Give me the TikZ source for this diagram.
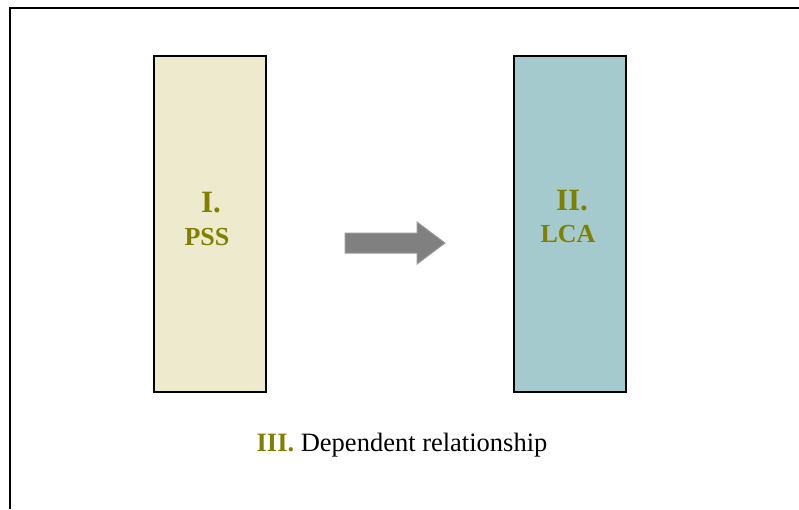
\documentclass[tikz,border=0pt]{standalone}
\usepackage{fontspec}
\setmainfont{Liberation Serif}
\definecolor{olivetxt}{HTML}{808000}
\definecolor{creamfill}{HTML}{EEEACD}
\definecolor{tealfill}{HTML}{A5CACD}
\definecolor{arrowgray}{HTML}{808080}
\definecolor{arrowedge}{HTML}{9A9A9A}
\begin{document}
\begin{tikzpicture}[x=1pt,y=-1pt,
  panel/.style={draw=black,line width=2pt,minimum width=112pt,minimum height=336pt,inner sep=0pt},
  bigroman/.style={text=olivetxt,font=\fontsize{31}{31}\selectfont\bfseries,inner sep=0pt},
  abbrev/.style={text=olivetxt,font=\fontsize{26}{26}\selectfont\bfseries,inner sep=0pt}]
\useasboundingbox (0,0) rectangle (799,509);
% outer frame (only left and top edges visible)
\draw[line width=2pt] (10,509) -- (10,8) -- (799,8);
% panels
\node[panel,fill=creamfill] (pss) at (210,224) {};
\node[panel,fill=tealfill] (lca) at (570,224) {};
\node[bigroman,anchor=base] (pssnum) at (211,212) {I.};
\node[abbrev,anchor=base] (psslbl) at (207,245) {PSS};
\node[bigroman,anchor=base] (lcanum) at (572,210) {II.};
\node[abbrev,anchor=base] (lcalbl) at (568,242) {LCA};
% block arrow
\draw[fill=arrowgray,draw=arrowedge,line width=1pt]
  (345,233) -- (417,233) -- (417,222) -- (445,243) -- (417,264) -- (417,253) -- (345,253) -- cycle;
% caption
\node[anchor=base,inner sep=0pt,font=\fontsize{26.5}{26.5}\selectfont] (cap) at (402,451)
  {\textcolor{olivetxt}{\bfseries III.} Dependent relationship};
\end{tikzpicture}
\end{document}
